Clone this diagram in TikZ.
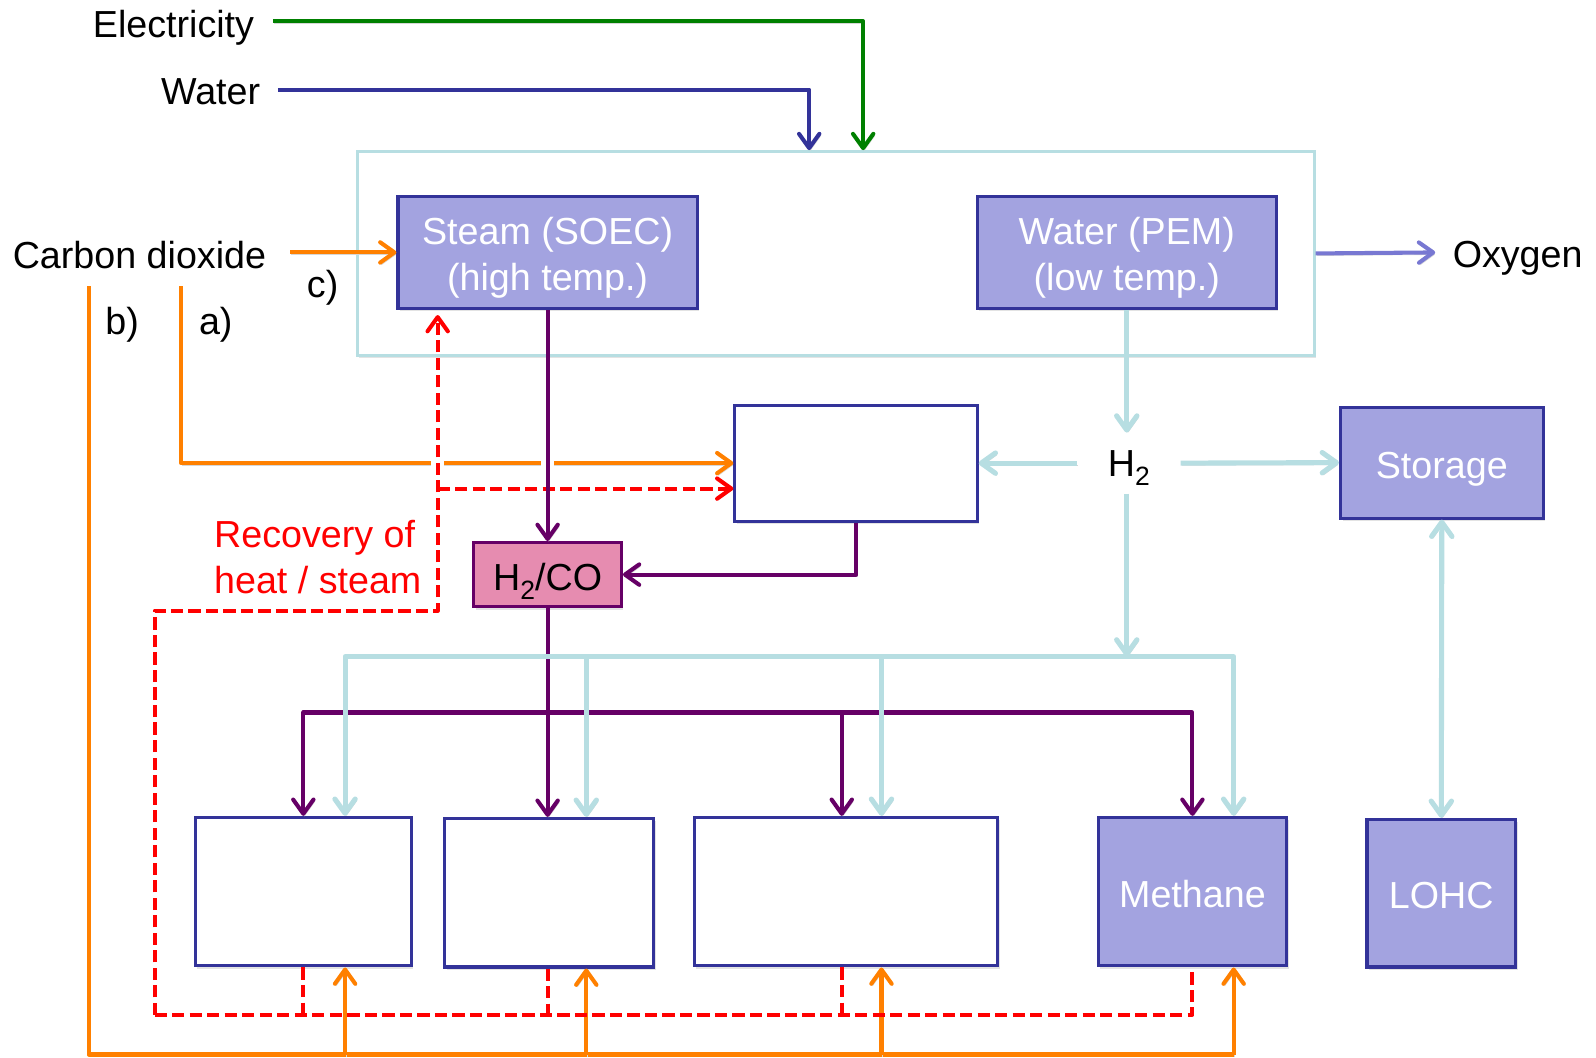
\documentclass[tikz,border=0pt]{standalone}
\usepackage{fontspec}
\setmainfont{Liberation Sans}
\usetikzlibrary{arrows.meta,shadows,calc}
\definecolor{cgreen}{RGB}{0,128,0}
\definecolor{cnavy}{RGB}{51,51,153}
\definecolor{corange}{RGB}{255,128,0}
\definecolor{cpurple}{RGB}{102,0,102}
\definecolor{ccyan}{RGB}{183,222,226}
\definecolor{clav}{RGB}{163,163,224}
\definecolor{coxy}{RGB}{120,120,210}
\definecolor{cpink}{RGB}{230,140,176}
\definecolor{cred}{RGB}{255,0,0}
\begin{document}
\begin{tikzpicture}[x=0.5pt,y=-0.5pt,
  every node/.style={font=\fontsize{18.5}{22.5}\selectfont, inner sep=0pt},
  shad/.style={drop shadow={shadow xshift=1pt,shadow yshift=-1.5pt,opacity=0.22}},
  lbox/.style={draw=cnavy, fill=clav, line width=1.5pt, text=white, align=center, shad},
  wbox/.style={draw=cnavy, fill=white, line width=1.5pt, shad},
  pbox/.style={draw=cpurple, fill=cpink, line width=1.5pt, shad},
  bigbox/.style={draw=ccyan, fill=white, line width=1.5pt, shad},
  oneline/.style={text height=15.25pt, text depth=0pt},
  boxtext/.style={text=white, align=center},
  tipend/.style={-{Straight Barb[length=7pt,width=10pt,round]}},
  tipboth/.style={{Straight Barb[length=7pt,width=10pt,round]}-{Straight Barb[length=7pt,width=10pt,round]}},
  lsh/.style={preaction={draw=black!16, transform canvas={shift={(0.6pt,-1pt)}}}},
  ln/.style={line width=2pt, line join=round, lsh},
  cln/.style={line width=2.5pt, draw=ccyan, line join=round, lsh},
  dsh/.style={line width=2pt, draw=cred, dash pattern=on 6pt off 2.6pt, line join=round}
]
\useasboundingbox (0,0) rectangle (1568,1039);

% big frame
\node[bigbox, minimum width=470pt, minimum height=100pt] (big) at (821,249) {};

% boxes
\node[lbox, minimum width=147pt, minimum height=55pt] (steam) at (538,248) {};
\node[boxtext] (steamt) at ([yshift=-2.75pt]steam.center) {Steam (SOEC)\\(high temp.)};
\node[lbox, minimum width=147pt, minimum height=55pt] (pem) at (1107,248) {};
\node[boxtext] (pemt) at ([yshift=-2.75pt]pem.center) {Water (PEM)\\(low temp.)};
\node[wbox, minimum width=119pt, minimum height=57pt] (mid) at (841,455) {};
\node[pbox, oneline, minimum width=72.5pt, minimum height=31.5pt] (h2co) at (538,564.5) {H\raisebox{-0.45ex}{\fontsize{13}{13}\selectfont 2}/CO};
\node[lbox, oneline, minimum width=99.5pt, minimum height=54.5pt] (stor) at (1416.5,454.5) {Storage};
\node[lbox, oneline, minimum width=73pt, minimum height=72.5pt] (lohc) at (1416,877.5) {LOHC};
\node[wbox, minimum width=106pt, minimum height=73pt] (b1) at (298,876) {};
\node[wbox, minimum width=102.5pt, minimum height=73pt] (b2) at (539.5,877) {};
\node[wbox, minimum width=149pt, minimum height=73pt] (b3) at (831,876) {};
\node[lbox, oneline, minimum width=92.5pt, minimum height=73pt] (meth) at (1171.5,876) {Methane};

% text labels
\node[anchor=east] (elec) at (250,27) {Electricity};
\node[anchor=east] (water) at (256,90.5) {Water};
\node (co2) at (137,251) {Carbon dioxide};
\node (oxy) at (1491,254) {Oxygen};
\node (lc) at (317,283) {c)};
\node (lb) at (120,319) {b)};
\node (la) at (212,319) {a)};
\node (h2) at (1109,460) {H\raisebox{-0.45ex}{\fontsize{13}{13}\selectfont 2}};
\node[text=cred, align=left, anchor=west] (rec) at (210,547) {Recovery of\\heat / steam};

% coordinates
\coordinate (eS) at (268,21);
\coordinate (wS) at (273,88);
\coordinate (cS) at (285,248);
\coordinate (oxIn) at (1410,248);
\coordinate (aS) at (178,281);
\coordinate (bS) at (87,281);
\coordinate (bC) at (87,1036);
\coordinate (rC) at (152,997);
\coordinate (rT) at (430,600);
\coordinate (hN) at (1107,425);
\coordinate (hS) at (1107,485);
\coordinate (hW) at (1058,455);
\coordinate (hE) at (1160,455);
\coordinate (cY) at (1107,645);
\coordinate (pY) at (298,700);
\coordinate (sIn) at ([xshift=-54pt,yshift=-2.5pt]steam.south);
\coordinate (mIn) at ([yshift=-12.5pt]mid.west);
\coordinate (o1) at ([xshift=20.5pt]b1.south);
\coordinate (o2) at ([xshift=18.25pt]b2.south);
\coordinate (o3) at ([xshift=17.5pt]b3.south);
\coordinate (o4) at ([xshift=20.25pt]meth.south);
\coordinate (c1) at ([xshift=20.5pt]b1.north);
\coordinate (c2) at ([xshift=18.25pt]b2.north);
\coordinate (c3) at ([xshift=17.5pt]b3.north);
\coordinate (c4) at ([xshift=20.25pt]meth.north);
\coordinate (p1) at (b1.north);
\coordinate (p2) at ([xshift=-0.75pt]b2.north);
\coordinate (p3) at ([xshift=-2pt]b3.north);
\coordinate (p4) at (meth.north);
\coordinate (d1) at (b1.south);
\coordinate (d2) at ([xshift=-0.75pt]b2.south);
\coordinate (d3) at ([xshift=-2pt]b3.south);
\coordinate (d4) at (meth.south);
\coordinate (x1) at (rT |- mid.west);
\coordinate (x2) at (steam.south |- mid.west);

% inputs on top
\draw[ln, draw=cgreen, tipend] (eS) -| ([xshift=13.5pt]big.north);
\draw[ln, draw=cnavy, tipend] (wS) -| ([xshift=-13pt]big.north);
\draw[ln, draw=corange, tipend] (cS) -- (steam.west);
\draw[ln, draw=coxy, tipend] (big.east) -- (oxIn);

% orange a) and b)
\draw[ln, draw=corange, tipend] (aS) |- (mid.west);
\draw[white, line width=2.6pt] ([xshift=-3.25pt]x1) -- ([xshift=3.25pt]x1);
\draw[white, line width=2.6pt] ([xshift=-3.25pt]x2) -- ([xshift=3.25pt]x2);
\draw[ln, draw=corange] (bS) -- (bC) -- (o4 |- bC);
\foreach \o in {o1,o2,o3,o4} \draw[ln, draw=corange, tipend] (\o |- bC) -- (\o);

% red dashed recovery
\draw[dsh] (rC) -- (d4 |- rC) -- (d4);
\foreach \d in {d1,d2,d3} \draw[dsh] (\d) -- (\d |- rC);
\draw[dsh, tipend] (rC) |- (rT) -- (sIn);
\draw[dsh, tipend] (mIn -| rT) -- (mIn);

% purple
\draw[ln, draw=cpurple, tipend] (steam.south) -- (h2co.north);
\draw[ln, draw=cpurple, tipend] (mid.south) |- (h2co.east);
\draw[ln, draw=cpurple, tipend] (h2co.south) -- (p2);
\draw[ln, draw=cpurple, tipboth] (p1) -- (p1 |- pY) -- (p4 |- pY) -- (p4);
\draw[ln, draw=cpurple, tipend] (p3 |- pY) -- (p3);

% cyan hydrogen
\draw[cln, tipend] (pem.south) -- (hN);
\draw[cln, tipend] (hW) -- (mid.east);
\draw[cln, tipend] (hE) -- (stor.west);
\draw[cln, tipend] (hS) -- (cY);
\draw[cln, tipboth] (c1) -- (c1 |- cY) -- (c4 |- cY) -- (c4);
\draw[cln, tipend] (c2 |- cY) -- (c2);
\draw[cln, tipend] (c3 |- cY) -- (c3);
\draw[cln, tipboth] (stor.south) -- (lohc.north);
\end{tikzpicture}
\end{document}
